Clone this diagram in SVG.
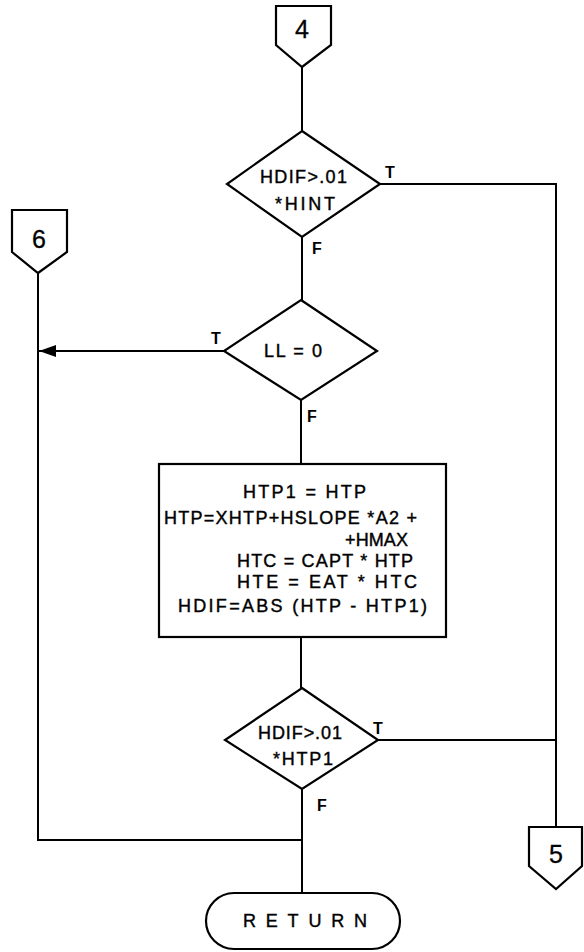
<svg xmlns="http://www.w3.org/2000/svg" width="584" height="952" viewBox="0 0 584 952">
<style>
.s{fill:#fff;stroke:#000;stroke-width:2.2;stroke-linejoin:miter}
.l{fill:none;stroke:#000;stroke-width:2}
.t{font-family:"Liberation Sans",Arial,sans-serif;fill:#000;font-size:18px;stroke:#000;stroke-width:0.4}
.lb{font-family:"Liberation Sans",Arial,sans-serif;fill:#000;font-size:16px;font-weight:bold}
.d{font-family:"Liberation Sans",Arial,sans-serif;fill:#000;font-size:25px;text-anchor:middle;stroke:#000;stroke-width:0.3}
</style>
<defs>
<marker id="ah" markerWidth="18" markerHeight="12" refX="17" refY="6" orient="auto" markerUnits="userSpaceOnUse">
<path d="M17,6 L0,0 L0,12 Z" fill="#000"/>
</marker>
</defs>
<rect width="584" height="952" fill="#fff"/>
<g id="connectors">
<path class="l" d="M302,67 V131"/>
<path class="l" d="M302,237 V300"/>
<path class="l" d="M380,184 H556 V827"/>
<path class="l" d="M224,351 H39" marker-end="url(#ah)"/>
<path class="l" d="M301,400 V464"/>
<path class="l" d="M301,637 V688"/>
<path class="l" d="M378,740 H556"/>
<path class="l" d="M38,273 V840 H302"/>
<path class="l" d="M302,789 V893"/>
</g>
<g id="c4">
<path class="s" d="M276,6 H331 V45 L302,67 L276,45 Z"/>
<text class="d" x="302" y="38">4</text>
</g>
<g id="c6">
<path class="s" d="M12,210 H67 V252 L38,273 L12,252 Z"/>
<text class="d" x="39" y="248">6</text>
</g>
<g id="c5">
<path class="s" d="M529,827 H582 V866 L556,889 L529,866 Z"/>
<text class="d" x="556" y="863">5</text>
</g>
<g id="d1">
<path class="s" d="M302,131 L380,184 L302,237 L227,184 Z"/>
<text class="t" x="260" y="183" textLength="87" lengthAdjust="spacing">HDIF&gt;.01</text>
<text class="t" x="275" y="210" textLength="60" lengthAdjust="spacing">*HINT</text>
<text class="lb" x="385" y="178">T</text>
<text class="lb" x="312" y="254">F</text>
</g>
<g id="d2">
<path class="s" d="M301,300 L377,351 L301,400 L224,351 Z"/>
<text class="t" x="264" y="357" textLength="58" lengthAdjust="spacing">LL = 0</text>
<text class="lb" x="211" y="344">T</text>
<text class="lb" x="307" y="422">F</text>
</g>
<g id="box">
<rect class="s" x="159" y="464" width="287" height="173"/>
<text class="t" x="243" y="498" textLength="123" lengthAdjust="spacing">HTP1 = HTP</text>
<text class="t" x="164" y="524" textLength="253" lengthAdjust="spacing">HTP=XHTP+HSLOPE *A2 +</text>
<text class="t" x="345" y="546" textLength="63" lengthAdjust="spacing">+HMAX</text>
<text class="t" x="237" y="567" textLength="176" lengthAdjust="spacing">HTC = CAPT * HTP</text>
<text class="t" x="237" y="588" textLength="180" lengthAdjust="spacing">HTE = EAT * HTC</text>
<text class="t" x="178" y="612" textLength="249" lengthAdjust="spacing">HDIF=ABS (HTP - HTP1)</text>
</g>
<g id="d3">
<path class="s" d="M302,688 L378,740 L302,789 L225,740 Z"/>
<text class="t" x="258" y="739" textLength="84" lengthAdjust="spacing">HDIF&gt;.01</text>
<text class="t" x="273" y="765" textLength="60" lengthAdjust="spacing">*HTP1</text>
<text class="lb" x="373" y="734">T</text>
<text class="lb" x="317" y="811">F</text>
</g>
<g id="ret">
<rect class="s" x="206" y="893" width="194" height="56" rx="28" ry="28"/>
<text class="t" x="243" y="927" textLength="124" lengthAdjust="spacing">RETURN</text>
</g>
</svg>
